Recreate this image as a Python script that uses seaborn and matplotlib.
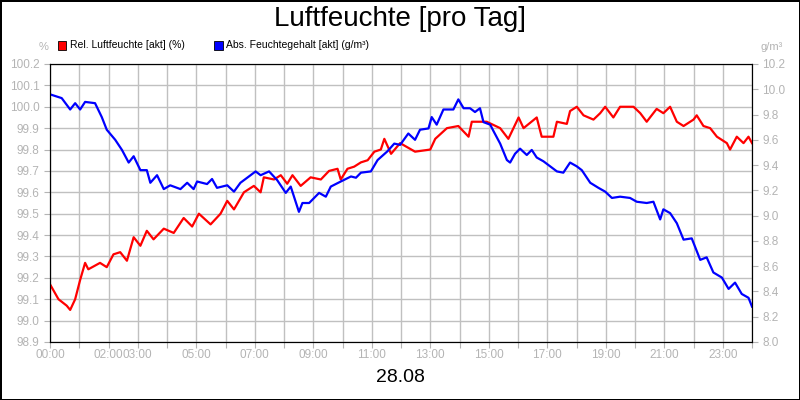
import numpy as np
import pandas as pd
import matplotlib
matplotlib.use('Agg')
import matplotlib.pyplot as plt
import seaborn as sns

plt.rcParams['font.family'] = 'Liberation Sans'

# Relative Luftfeuchte (%), Stunden
rel_h = [0, 0.29, 0.57, 0.69, 0.86, 1.03, 1.2, 1.31, 1.71, 1.94, 2.17, 2.4, 2.63, 2.86, 3.09, 3.31,
         3.54, 3.89, 4.23, 4.57, 4.86, 5.09, 5.49, 5.83, 6.06, 6.29, 6.63, 6.97, 7.2, 7.31, 7.66, 7.89,
         8.11, 8.29, 8.57, 8.91, 9.26, 9.54, 9.83, 9.94, 10.17, 10.4, 10.63, 10.86, 11.09, 11.31, 11.43,
         11.66, 11.97, 12.48, 13.0, 13.17, 13.57, 13.96, 14.31, 14.42, 14.93, 15.39, 15.67, 16.02, 16.19,
         16.64, 16.81, 17.21, 17.33, 17.67, 17.78, 18.01, 18.24, 18.58, 18.81, 18.98, 19.26, 19.49, 19.95,
         20.18, 20.4, 20.74, 20.97, 21.2, 21.43, 21.66, 22.0, 22.11, 22.34, 22.57, 22.8, 23.14, 23.25,
         23.48, 23.71, 23.88, 24.0]
rel_val = [99.17, 99.10, 99.07, 99.05, 99.10, 99.19, 99.27, 99.24, 99.27, 99.25, 99.31, 99.32, 99.28,
           99.39, 99.35, 99.42, 99.38, 99.43, 99.41, 99.48, 99.44, 99.50, 99.45, 99.50, 99.56, 99.52,
           99.60, 99.63, 99.60, 99.67, 99.66, 99.68, 99.64, 99.68, 99.63, 99.67, 99.66, 99.70, 99.71,
           99.66, 99.71, 99.72, 99.74, 99.75, 99.79, 99.80, 99.85, 99.78, 99.83, 99.79, 99.80, 99.85,
           99.90, 99.91, 99.86, 99.93, 99.93, 99.90, 99.85, 99.95, 99.90, 99.95, 99.86, 99.86, 99.93,
           99.92, 99.98, 100.0, 99.96, 99.94, 99.97, 100.0, 99.95, 100.0, 100.0, 99.97, 99.93, 99.99,
           99.97, 100.0, 99.93, 99.91, 99.94, 99.96, 99.91, 99.90, 99.86, 99.83, 99.80, 99.86, 99.83,
           99.86, 99.83]

# Absoluter Feuchtegehalt (g/m³)
abs_h = [0, 0.4, 0.69, 0.86, 1.03, 1.2, 1.54, 1.77, 1.94, 2.23, 2.46, 2.69, 2.86, 3.09, 3.31, 3.43,
         3.66, 3.89, 4.11, 4.46, 4.69, 4.91, 5.03, 5.37, 5.54, 5.71, 6.06, 6.29, 6.51, 6.8, 7.03, 7.2,
         7.49, 7.77, 8.06, 8.23, 8.51, 8.63, 8.86, 9.2, 9.43, 9.6, 9.94, 10.29, 10.46, 10.63, 10.97,
         11.2, 11.54, 11.77, 11.97, 12.25, 12.48, 12.65, 12.94, 13.05, 13.22, 13.45, 13.79, 13.96, 14.14,
         14.36, 14.53, 14.7, 14.82, 15.05, 15.16, 15.39, 15.62, 15.73, 15.9, 16.07, 16.3, 16.47, 16.64,
         16.87, 17.1, 17.33, 17.55, 17.78, 18.01, 18.18, 18.47, 18.75, 18.98, 19.21, 19.49, 19.83,
         20.06, 20.4, 20.63, 20.86, 20.97, 21.2, 21.43, 21.66, 21.94, 22.23, 22.45, 22.68, 22.97, 23.2,
         23.42, 23.65, 23.88, 24.0]
abs_val = [9.96, 9.93, 9.84, 9.89, 9.84, 9.90, 9.89, 9.78, 9.68, 9.60, 9.52, 9.42, 9.47, 9.36, 9.36,
           9.26, 9.32, 9.21, 9.24, 9.21, 9.26, 9.21, 9.27, 9.25, 9.29, 9.22, 9.24, 9.19, 9.26, 9.31,
           9.35, 9.32, 9.35, 9.28, 9.18, 9.23, 9.03, 9.10, 9.10, 9.18, 9.15, 9.23, 9.27, 9.31, 9.30,
           9.34, 9.35, 9.44, 9.51, 9.57, 9.56, 9.65, 9.60, 9.68, 9.69, 9.78, 9.72, 9.84, 9.84, 9.92,
           9.85, 9.85, 9.82, 9.85, 9.74, 9.72, 9.67, 9.57, 9.44, 9.42, 9.49, 9.53, 9.48, 9.52, 9.46,
           9.43, 9.39, 9.35, 9.34, 9.42, 9.39, 9.36, 9.26, 9.22, 9.19, 9.14, 9.15, 9.14, 9.11, 9.10,
           9.11, 8.97, 9.05, 9.02, 8.94, 8.81, 8.82, 8.65, 8.67, 8.55, 8.51, 8.42, 8.47, 8.38, 8.35, 8.28]

xtick_labels = ['00:00', '02:00', '03:00', '05:00', '07:00', '09:00', '11:00',
                '13:00', '15:00', '17:00', '19:00', '21:00', '23:00']
xtick_pos = [0, 2, 3, 5, 7, 9, 11, 13, 15, 17, 19, 21, 23]

grey = '#b4b4b4'
fig = plt.figure(figsize=(8, 4), dpi=100)
fig.patch.set_edgecolor('black')
fig.patch.set_linewidth(2)
ax = fig.add_axes([0.0625, 0.145, 0.8775, 0.695])
ax2 = ax.twinx()

sns.lineplot(x=rel_h, y=rel_val, ax=ax, color='#ff0000', linewidth=1.6)
sns.lineplot(x=abs_h, y=abs_val, ax=ax2, color='#0000ff', linewidth=1.6)

ax.set_xlim(0, 24)
ax.set_ylim(98.9, 100.2)
ax2.set_ylim(8.0, 10.2)
ax.set_yticks(np.round(np.arange(98.9, 100.21, 0.1), 1))
ax.set_yticklabels([f'{v:.1f}' for v in np.arange(98.9, 100.21, 0.1)])
ax2.set_yticks(np.round(np.arange(8.0, 10.21, 0.2), 1))
ax2.set_yticklabels([f'{v:.1f}' for v in np.arange(8.0, 10.21, 0.2)])
ax.set_xticks(range(25))
ax.set_xticklabels(['' for _ in range(25)])
for p, l in zip(xtick_pos, xtick_labels):
    ax.text(p, -0.025, l, transform=ax.get_xaxis_transform(), ha='center', va='top',
            color=grey, fontsize=8.5)
ax.grid(True, color='#c0c0c0', linewidth=1)
ax.set_axisbelow(True)
for a in (ax, ax2):
    a.tick_params(colors=grey, labelsize=8.5, length=4)
    for s in a.spines.values():
        s.set_color('black')

fig.text(0.5, 0.953, 'Luftfeuchte [pro Tag]', ha='center', va='center', fontsize=20)
fig.text(0.5, 0.055, '28.08', ha='center', va='center', fontsize=14)
fig.text(0.055, 0.882, '%', ha='center', va='center', color=grey, fontsize=8)
fig.text(0.965, 0.882, 'g/m³', ha='center', va='center', color=grey, fontsize=8)

fig.patches.append(plt.Rectangle((0.072, 0.876), 0.011, 0.022, transform=fig.transFigure,
                                 facecolor='#ff0000', edgecolor='black', linewidth=0.6))
fig.text(0.087, 0.887, 'Rel. Luftfeuchte [akt] (%)', va='center', fontsize=7.5)
fig.patches.append(plt.Rectangle((0.268, 0.876), 0.011, 0.022, transform=fig.transFigure,
                                 facecolor='#0000ff', edgecolor='black', linewidth=0.6))
fig.text(0.283, 0.887, 'Abs. Feuchtegehalt [akt] (g/m³)', va='center', fontsize=7.5)

fig.savefig('out.png', dpi=100, edgecolor=fig.get_edgecolor())
